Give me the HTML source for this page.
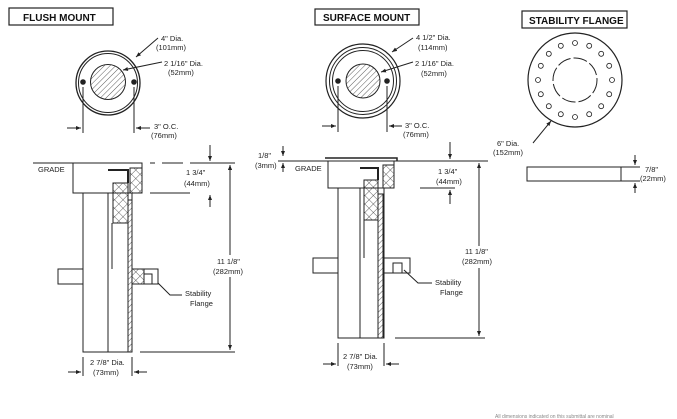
<!DOCTYPE html>
<html><head><meta charset="utf-8"><style>
html,body{margin:0;padding:0;background:#fff;}
svg{display:block;}
text{font-family:"Liberation Sans",sans-serif;font-size:7.5px;fill:#222;}
.t{font-size:10px;font-weight:bold;fill:#111;}
</style></head><body>
<svg width="677" height="419" viewBox="0 0 677 419" xmlns="http://www.w3.org/2000/svg">
<defs>
<pattern id="h" width="4" height="4" patternUnits="userSpaceOnUse" patternTransform="rotate(45)"><line x1="0" y1="0" x2="0" y2="4" stroke="#333" stroke-width="0.8"/></pattern>
<pattern id="x" width="6" height="6" patternUnits="userSpaceOnUse" patternTransform="rotate(45)"><path d="M0 0V6M0 0H6" stroke="#333" stroke-width="0.8"/></pattern>
<marker id="a" markerWidth="6" markerHeight="6" refX="5" refY="3" orient="auto"><path d="M0,1 L5,3 L0,5z" fill="#222"/></marker>
</defs>
<g stroke="#222" fill="none" stroke-width="1">
<!-- titles -->
<rect x="9" y="8" width="104" height="17" stroke-width="1.2"/>
<rect x="315" y="9" width="104" height="16" stroke-width="1.2"/>
<rect x="522" y="11" width="105" height="17" stroke-width="1.2"/>

<!-- flush top -->
<circle cx="108" cy="83" r="32" stroke-width="1.3"/>
<circle cx="108" cy="83" r="29.5"/>
<circle cx="108" cy="82" r="17.5" fill="url(#h)"/>
<circle cx="83" cy="82" r="2.3" fill="#222"/>
<circle cx="134" cy="82" r="2.3" fill="#222"/>
<path d="M83 87V133M134 87V133"/>
<path d="M67 128H81" marker-end="url(#a)"/>
<path d="M150 128H136" marker-end="url(#a)"/>
<path d="M158 38L136 57" marker-end="url(#a)"/>
<path d="M162 62L123 70" marker-end="url(#a)"/>

<!-- surface top -->
<circle cx="363" cy="81" r="37" stroke-width="1.2"/>
<circle cx="363" cy="81" r="33.5"/>
<circle cx="363" cy="81" r="30.5"/>
<circle cx="363" cy="81" r="17" fill="url(#h)"/>
<circle cx="338" cy="81" r="2.3" fill="#222"/>
<circle cx="387" cy="81" r="2.3" fill="#222"/>
<path d="M338 86V132M387 86V132"/>
<path d="M322 126H336" marker-end="url(#a)"/>
<path d="M402 126H389" marker-end="url(#a)"/>
<path d="M413 38L392 52" marker-end="url(#a)"/>
<path d="M413 62L381 72" marker-end="url(#a)"/>

<!-- stability flange top -->
<circle cx="575" cy="80" r="47" stroke-width="1.2"/>
<g id="holes" stroke-width="0.8">
<circle cx="612" cy="80" r="2.5"/><circle cx="609.2" cy="94.2" r="2.5"/><circle cx="601.2" cy="106.2" r="2.5"/><circle cx="589.2" cy="114.2" r="2.5"/>
<circle cx="575" cy="117" r="2.5"/><circle cx="560.8" cy="114.2" r="2.5"/><circle cx="548.8" cy="106.2" r="2.5"/><circle cx="540.8" cy="94.2" r="2.5"/>
<circle cx="538" cy="80" r="2.5"/><circle cx="540.8" cy="65.8" r="2.5"/><circle cx="548.8" cy="53.8" r="2.5"/><circle cx="560.8" cy="45.8" r="2.5"/>
<circle cx="575" cy="43" r="2.5"/><circle cx="589.2" cy="45.8" r="2.5"/><circle cx="601.2" cy="53.8" r="2.5"/><circle cx="609.2" cy="65.8" r="2.5"/>
</g>
<circle cx="575" cy="80" r="22" stroke-dasharray="14 3"/>
<path d="M533 143L551 121" marker-end="url(#a)"/>
<rect x="527" y="167" width="94" height="14"/>
<path d="M621 167H640M621 181H640"/>
<path d="M635 155V165" marker-end="url(#a)"/>
<path d="M635 193V183" marker-end="url(#a)"/>

<!-- flush section -->
<path d="M33 163H135M150 163H155M162 163H183M190 163H235"/>
<rect x="73" y="163" width="69" height="30"/>
<path d="M150 193H190"/>
<path d="M83 193V352H132V193"/>
<path d="M108 193V352M128 193V352"/>
<rect x="128" y="200" width="4" height="152" fill="url(#h)"/>
<rect x="113" y="183" width="15" height="40" fill="url(#x)"/>
<rect x="130" y="168" width="12" height="25" fill="url(#x)"/>
<path d="M108 170H128V183" stroke-width="2"/>
<path d="M108 230V269M112 223V269" />
<rect x="58" y="269" width="25" height="15"/>
<rect x="132" y="269" width="26" height="15"/>
<rect x="132" y="269" width="12" height="15" fill="url(#x)"/>
<path d="M144 274H152V284"/>
<path d="M158 283L170 295H182"/>
<path d="M140 352H235"/>
<path d="M210 145V161" marker-end="url(#a)"/>
<path d="M210 207V195" marker-end="url(#a)"/>
<path d="M230 170V165" marker-end="url(#a)"/>
<path d="M230 165V350" marker-end="url(#a)"/>
<path d="M230 200V165" marker-end="url(#a)"/>
<path d="M83 357V376M132 357V376"/>
<path d="M68 372H81" marker-end="url(#a)"/>
<path d="M147 372H134" marker-end="url(#a)"/>

<!-- surface section -->
<path d="M278 161H488"/>
<path d="M325 158H397V161" stroke-width="1.5"/>
<rect x="328" y="161" width="66" height="27"/>
<path d="M338 188V338H384V188"/>
<path d="M360 188V338M378 188V338"/>
<rect x="378" y="194" width="5" height="144" fill="url(#h)"/>
<rect x="364" y="180" width="14" height="40" fill="url(#x)"/>
<rect x="383" y="165" width="11" height="23" fill="url(#x)"/>
<path d="M360 168H378V180" stroke-width="2"/>
<path d="M360 225V258M364 220V258"/>
<rect x="313" y="258" width="25" height="15"/>
<rect x="384" y="258" width="26" height="15"/>
<rect x="393" y="263" width="9" height="10" fill="#fff"/>
<path d="M404 270L418 283H432"/>
<path d="M420 188H455M395 338H485"/>
<path d="M450 142V159" marker-end="url(#a)"/>
<path d="M450 204V190" marker-end="url(#a)"/>
<path d="M479 175V163" marker-end="url(#a)"/>
<path d="M479 165V336" marker-end="url(#a)"/>
<path d="M283 146V156" marker-end="url(#a)"/>
<path d="M283 172V163" marker-end="url(#a)"/>
<path d="M338 343V366M384 343V366"/>
<path d="M323 364H336" marker-end="url(#a)"/>
<path d="M399 364H386" marker-end="url(#a)"/>
</g>
<g fill="#fff"><rect x="460" y="246" width="40" height="22"/><rect x="210" y="255" width="42" height="22"/></g>
<text class="t" x="23" y="21">FLUSH MOUNT</text>
<text class="t" x="323" y="21">SURFACE MOUNT</text>
<text class="t" x="529" y="24">STABILITY FLANGE</text>
<text x="161" y="41">4" Dia.</text><text x="156" y="50">(101mm)</text>
<text x="164" y="66">2 1/16" Dia.</text><text x="168" y="75">(52mm)</text>
<text x="154" y="129">3" O.C.</text><text x="151" y="138">(76mm)</text>
<text x="416" y="40">4 1/2" Dia.</text><text x="418" y="50">(114mm)</text>
<text x="415" y="66">2 1/16" Dia.</text><text x="421" y="76">(52mm)</text>
<text x="405" y="128">3" O.C.</text><text x="403" y="137">(76mm)</text>
<text x="497" y="146">6" Dia.</text><text x="493" y="155">(152mm)</text>
<text x="645" y="172">7/8"</text><text x="640" y="181">(22mm)</text>
<text x="38" y="172">GRADE</text>
<text x="186" y="175">1 3/4"</text><text x="184" y="186">(44mm)</text>
<text x="217" y="264">11 1/8"</text><text x="213" y="274">(282mm)</text>
<text x="185" y="296">Stability</text><text x="190" y="306">Flange</text>
<text x="90" y="365">2 7/8" Dia.</text><text x="93" y="375">(73mm)</text>
<text x="258" y="158">1/8"</text><text x="255" y="168">(3mm)</text>
<text x="295" y="171">GRADE</text>
<text x="438" y="174">1 3/4"</text><text x="436" y="184">(44mm)</text>
<text x="465" y="254">11 1/8"</text><text x="462" y="264">(282mm)</text>
<text x="435" y="285">Stability</text><text x="440" y="295">Flange</text>
<text x="343" y="359">2 7/8" Dia.</text><text x="347" y="369">(73mm)</text>
<text x="495" y="418" style="font-size:5px;fill:#888">All dimensions indicated on this submittal are nominal</text>
</svg>
</body></html>
